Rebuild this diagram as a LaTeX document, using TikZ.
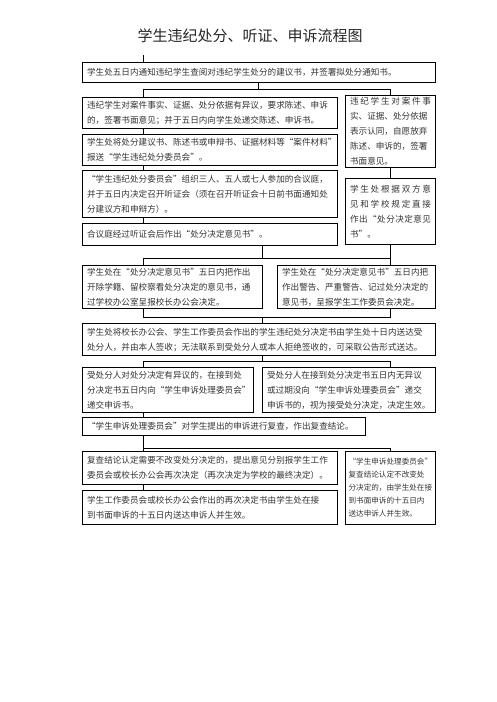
\documentclass[tikz,border=0pt]{standalone}
\usepackage{fontspec}
\newfontfamily\cjk{Noto Sans CJK SC}
\def\spreadchars#1{\ifx#1\relax\else#1\expandafter\spreadnext\fi}
\def\spreadnext#1{\ifx#1\relax\else\hfil#1\expandafter\spreadnext\fi}
\newcommand{\spreadline}[1]{\leavevmode\hbox to \hsize{\spreadchars#1\relax}}

\begin{document}
\begin{tikzpicture}[
    x=1pt, y=-1pt,
    box/.style={
        draw=black, line width=1.1pt, anchor=north west, align=left,
        inner xsep=4.5pt, inner ysep=1pt, text=black!80,
        font=\cjk\fontsize{8.6}{15}\selectfont
    },
    link/.style={draw=black, line width=0.8pt}
]
\useasboundingbox (0,0) rectangle (496,702);

% Title
\node[font=\cjk\fontsize{15}{18}\selectfont, text=black!85] (title) at (250,36) {学生违纪处分、听证、申诉流程图};

% -------------------------
% Column lines
% -------------------------
\coordinate (cl) at (143,0);
\coordinate (cr) at (390,0);

% -------------------------
% Boxes
% -------------------------

% 1. Notice (Top)
\node[box, text width=344pt, minimum height=20pt] (notice) at (82,62) {学生处五日内通知违纪学生查阅对违纪学生处分的建议书，并签署拟处分通知书。};

% 2. Objection (Left)
\node[box, text width=246pt, minimum height=31pt] (objection) at (82,97) {违纪学生对案件事实、证据、处分依据有异议，要求陈述、申诉\\的，签署书面意见；并于五日内向学生处递交陈述、申诉书。};

% 3. Materials
\node[box, text width=246pt, minimum height=31pt] (materials) at (82,134) {学生处将处分建议书、陈述书或申辩书、证据材料等“案件材料”\\报送“学生违纪处分委员会”。};

% 4. Hearing
\node[box, text width=246pt, minimum height=47pt] (hearing) at (82,170) {“学生违纪处分委员会”组织三人、五人或七人参加的合议庭，\\并于五日内决定召开听证会（须在召开听证会十日前书面通知处\\分建议方和申辩方）。};

% 5. Opinion
\node[box, text width=246pt, minimum height=22pt] (opinion) at (82,223) {合议庭经过听证会后作出“处分决定意见书”。};

% 6. Accept (Right)
\node[box, text width=81pt, minimum height=72pt] (accept) at (345,95) {\spreadline{违纪学生对案件事}\\实、证据、处分依据\\表示认同，自愿放弃\\陈述、申诉的，签署\\书面意见。};

% 7. Direct opinion (Right)
\node[box, text width=81pt, minimum height=66pt] (direct) at (345,178) {\spreadline{学生处根据双方意}\\\spreadline{见和学校规定直接}\\\spreadline{作出“处分决定意见}\\书”。};

% 8. To principal's office
\node[box, text width=171pt, minimum height=43pt] (office) at (82,265) {学生处在“处分决定意见书”五日内把作出\\开除学籍、留校察看处分决定的意见书，通\\过学校办公室呈报校长办公会决定。};

% 9. To student committee
\node[box, text width=149pt, minimum height=43pt] (committee) at (277,265) {学生处在“处分决定意见书”五日内把\\作出警告、严重警告、记过处分决定的\\意见书，呈报学生工作委员会决定。};

% 10. Delivery
\node[box, text width=344pt, minimum height=32pt] (delivery) at (82,323) {学生处将校长办公会、学生工作委员会作出的学生违纪处分决定书由学生处十日内送达受\\处分人，并由本人签收；无法联系到受处分人或本人拒绝签收的，可采取公告形式送达。};

% 11. Appeal
\node[box, text width=162pt, minimum height=45pt] (appeal) at (82,367) {受处分人对处分决定有异议的，在接到处\\分决定书五日内向“学生申诉处理委员会”\\递交申诉书。};

% 12. No appeal
\node[box, text width=164pt, minimum height=45pt] (noappeal) at (262,367) {受处分人在接到处分决定书五日内无异议\\或过期没向“学生申诉处理委员会”递交\\申诉书的，视为接受处分决定，决定生效。};

% 13. Review
\node[box, text width=274pt, minimum height=18pt] (review) at (82,417) {“学生申诉处理委员会”对学生提出的申诉进行复查，作出复查结论。};

% 14. Change needed
\node[box, text width=246pt, minimum height=33pt] (change) at (82,451) {复查结论认定需要不改变处分决定的，提出意见分别报学生工作\\委员会或校长办公会再次决定（再次决定为学校的最终决定）。};

% 15. Final
\node[box, text width=246pt, minimum height=34pt] (final) at (82,490) {学生工作委员会或校长办公会作出的再次决定书由学生处在接\\到书面申诉的十五日内送达申诉人并生效。};

% 16. Keep (Right)
\node[box, text width=84pt, inner xsep=3pt, minimum height=73pt, font=\cjk\fontsize{7.6}{13}\selectfont] (keep) at (345,451) {“学生申诉处理委员会”\\复查结论认定不改变处\\分决定的，由学生处在接\\到书面申诉的十五日内\\送达申诉人并生效。};

% -------------------------
% Connections
% -------------------------

% tick above notice
\coordinate (t0) at (143,55);
\draw[link] (t0) -- (t0 |- notice.north);

% notice -> objection / accept
\coordinate (j1) at (258,89);
\draw[link] (notice.south -| j1) -- (j1);
\draw[link] (objection.north -| cl) -- (cl |- j1) -- (cr |- j1) -- (accept.north -| cr);

% left column
\draw[link] (objection.south -| cl) -- (materials.north -| cl);
\draw[link] (materials.south -| cl) -- (hearing.north -| cl);
\draw[link] (hearing.south -| cl) -- (opinion.north -| cl);

% right column
\draw[link] (accept.south -| cr) -- (direct.north -| cr);

% opinion / direct -> office / committee
\coordinate (j2) at (262,258);
\draw[link] (opinion.south -| j2) -- (j2);
\draw[link] (office.north -| cl) -- (cl |- j2) -- (cr |- j2);
\draw[link] (direct.south -| cr) -- (committee.north -| cr);

% office / committee -> delivery
\coordinate (j3) at (262,317);
\draw[link] (office.south -| cl) -- (cl |- j3) -- (cr |- j3) -- (committee.south -| cr);
\draw[link] (j3) -- (delivery.north -| j3);

% delivery -> appeal / noappeal
\coordinate (j4) at (262,361);
\draw[link] (delivery.south -| j4) -- (j4);
\draw[link] (appeal.north -| cl) -- (cl |- j4) -- (cr |- j4) -- (noappeal.north -| cr);

% appeal -> review
\draw[link] (appeal.south -| cl) -- (review.north -| cl);

% review -> change / keep
\coordinate (j5) at (143,448);
\draw[link] (review.south -| cl) -- (change.north -| cl);
\draw[link] (j5) -- (cr |- j5) -- (keep.north -| cr);

% change -> final
\draw[link] (change.south -| cl) -- (final.north -| cl);

\end{tikzpicture}
\end{document}
